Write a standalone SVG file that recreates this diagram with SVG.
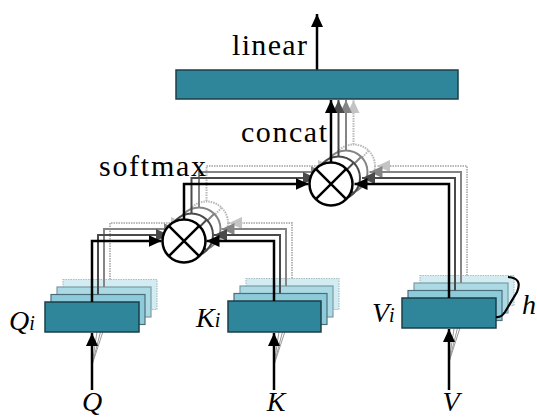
<svg xmlns="http://www.w3.org/2000/svg" width="537" height="419" viewBox="0 0 537 419">
  <defs>
    <style>
      .lbl { font-family: "Liberation Serif", "Times New Roman", serif; font-size: 30px; fill: #000; }
      .var { font-family: "Liberation Serif", "Times New Roman", serif; font-style: italic; font-size: 28px; fill: #000; }
      .sub { font-size: 20px; }
      .node-c { fill: #fff; }
      .l0 { stroke: #000; stroke-width: 2.5; fill: none; }
      .l1 { stroke: #4a4a4a; stroke-width: 2; fill: none; }
      .l2 { stroke: #858585; stroke-width: 2; fill: none; }
      .l3 { stroke: #b8b8b8; stroke-width: 2; fill: none; stroke-dasharray: 1.5 1; }
      .b0 { fill: #2f8599; stroke: #1c3f48; stroke-width: 1.5; }
      .b1 { fill: #8ecbda; stroke: #4b6e78; stroke-width: 1.2; }
      .b2 { fill: #acdae4; stroke: #7a9ba3; stroke-width: 1.2; }
      .b3 { fill: #d2ecf2; stroke: #a8bfc5; stroke-width: 1.2; stroke-dasharray: 1.5 1; }
      .fan { stroke: #9a9a9a; stroke-width: 1; fill: none; }
    </style>
    <marker id="ah0" markerUnits="userSpaceOnUse" markerWidth="14" markerHeight="14" refX="13" refY="6" orient="auto">
      <path d="M0,0 L13,6 L0,12 z" fill="#000"/>
    </marker>
    <marker id="ah1" markerUnits="userSpaceOnUse" markerWidth="14" markerHeight="14" refX="13" refY="6" orient="auto">
      <path d="M0,0 L13,6 L0,12 z" fill="#4a4a4a"/>
    </marker>
    <marker id="ah2" markerUnits="userSpaceOnUse" markerWidth="14" markerHeight="14" refX="13" refY="6" orient="auto">
      <path d="M0,0 L13,6 L0,12 z" fill="#858585"/>
    </marker>
    <marker id="ah3" markerUnits="userSpaceOnUse" markerWidth="14" markerHeight="14" refX="13" refY="6" orient="auto">
      <path d="M0,0 L13,6 L0,12 z" fill="#c4c4c4"/>
    </marker>
  </defs>

  <rect width="537" height="419" fill="#fff"/>

  <!-- head 3 (rearmost copy) -->
  <g id="head-3">
    <g id="q-proj-3"><rect class="b3" x="63" y="279.5" width="94" height="30"/></g>
    <g id="k-proj-3"><rect class="b3" x="246" y="278.5" width="93" height="31"/></g>
    <g id="v-proj-3"><rect class="b3" x="420" y="275.5" width="94" height="30"/></g>
    <g id="connectors-3" class="l3">
      <path d="M110,279.5 V223 H184" marker-end="url(#ah3)"/>
      <path d="M292,278.5 V223 H229" marker-end="url(#ah3)"/>
      <path d="M206.5,201 V166 H331" marker-end="url(#ah3)"/>
      <path d="M467,275.5 V166 H377" marker-end="url(#ah3)"/>
      <path d="M353.5,144.5 V100" marker-end="url(#ah3)"/>
    </g>
    <g id="mul-attn-3" class="l3">
      <circle class="node-c" cx="206.5" cy="223" r="21.5"/>
      <path d="M191.3,207.8 L221.7,238.2 M221.7,207.8 L191.3,238.2"/>
    </g>
    <g id="mul-out-3" class="l3">
      <circle class="node-c" cx="353.5" cy="166" r="21.5"/>
      <path d="M338.3,150.8 L368.7,181.2 M368.7,150.8 L338.3,181.2"/>
    </g>
  </g>

  <!-- head 2 -->
  <g id="head-2">
    <g id="q-proj-2"><rect class="b2" x="57" y="287" width="94" height="30"/></g>
    <g id="k-proj-2"><rect class="b2" x="240" y="286" width="93" height="31"/></g>
    <g id="v-proj-2"><rect class="b2" x="414" y="283" width="94" height="30"/></g>
    <g id="connectors-2" class="l2">
      <path d="M104,287 V229 H176.5" marker-end="url(#ah2)"/>
      <path d="M286,286 V229 H221.5" marker-end="url(#ah2)"/>
      <path d="M199,207 V172 H323.5" marker-end="url(#ah2)"/>
      <path d="M461,283 V172 H369.5" marker-end="url(#ah2)"/>
      <path d="M346,150.5 V100" marker-end="url(#ah2)"/>
    </g>
    <g id="mul-attn-2" class="l2">
      <circle class="node-c" cx="199" cy="229" r="21.5"/>
      <path d="M183.8,213.8 L214.2,244.2 M214.2,213.8 L183.8,244.2"/>
    </g>
    <g id="mul-out-2" class="l2">
      <circle class="node-c" cx="346" cy="172" r="21.5"/>
      <path d="M330.8,156.8 L361.2,187.2 M361.2,156.8 L330.8,187.2"/>
    </g>
  </g>

  <!-- head 1 -->
  <g id="head-1">
    <g id="q-proj-1"><rect class="b1" x="51" y="294.5" width="94" height="30"/></g>
    <g id="k-proj-1"><rect class="b1" x="234" y="293.5" width="93" height="31"/></g>
    <g id="v-proj-1"><rect class="b1" x="408" y="290.5" width="94" height="30"/></g>
    <g id="connectors-1" class="l1">
      <path d="M98,294.5 V235 H169" marker-end="url(#ah1)"/>
      <path d="M280,293.5 V235 H214" marker-end="url(#ah1)"/>
      <path d="M191.5,213 V178 H316" marker-end="url(#ah1)"/>
      <path d="M455,290.5 V178 H362" marker-end="url(#ah1)"/>
      <path d="M338.5,156.5 V100" marker-end="url(#ah1)"/>
    </g>
    <g id="mul-attn-1" class="l1">
      <circle class="node-c" cx="191.5" cy="235" r="21.5"/>
      <path d="M176.3,219.8 L206.7,250.2 M206.7,219.8 L176.3,250.2"/>
    </g>
    <g id="mul-out-1" class="l1">
      <circle class="node-c" cx="338.5" cy="178" r="21.5"/>
      <path d="M323.3,162.8 L353.7,193.2 M353.7,162.8 L323.3,193.2"/>
    </g>
  </g>

  <!-- thin fan lines from each input towards the rear projections -->
  <g id="input-fans" class="fan">
    <path d="M92,365 L98,325 M92,365 L104,318 M92,365 L110,310"/>
    <path d="M274,365 L280,325 M274,365 L286,318 M274,365 L292,310"/>
    <path d="M449,362 L455,322 M449,362 L461,314 M449,362 L467,306"/>
  </g>

  <!-- head 0 (front) -->
  <g id="head-0">
    <g id="q-proj-0"><rect class="b0" x="45" y="302" width="94" height="30"/></g>
    <g id="k-proj-0"><rect class="b0" x="228" y="301" width="93" height="31"/></g>
    <g id="v-proj-0"><rect class="b0" x="402" y="298" width="94" height="30"/></g>
    <g id="connectors-0" class="l0">
      <path d="M92,302 V241 H161.5" marker-end="url(#ah0)"/>
      <path d="M274,301 V241 H206.5" marker-end="url(#ah0)"/>
      <path d="M184,219 V184 H308.5" marker-end="url(#ah0)"/>
      <path d="M449,298 V184 H354.5" marker-end="url(#ah0)"/>
      <path d="M331,162.5 V100" marker-end="url(#ah0)"/>
      <path d="M92,390 V333" marker-end="url(#ah0)"/>
      <path d="M274,390 V333" marker-end="url(#ah0)"/>
      <path d="M449,390 V329" marker-end="url(#ah0)"/>
      <path d="M317,70 V14" marker-end="url(#ah0)"/>
      <!-- bracket spanning the h heads -->
      <path d="M508,277 Q523,278 517,292 L505,312 Q501,318 496,317" stroke-width="2.2"/>
    </g>
    <g id="mul-attn-0" class="l0">
      <circle class="node-c" cx="184" cy="241" r="21.5"/>
      <path d="M168.8,225.8 L199.2,256.2 M199.2,225.8 L168.8,256.2"/>
    </g>
    <g id="mul-out-0" class="l0">
      <circle class="node-c" cx="331" cy="184" r="21.5"/>
      <path d="M315.8,168.8 L346.2,199.2 M346.2,168.8 L315.8,199.2"/>
    </g>
  </g>

  <g id="linear-out">
    <rect class="b0" x="176" y="70" width="282" height="29"/>
  </g>

  <!-- labels -->
  <g id="labels">
    <text class="lbl" x="232" y="55" textLength="75" lengthAdjust="spacing">linear</text>
    <text class="lbl" x="241" y="142" textLength="86" lengthAdjust="spacing">concat</text>
    <text class="lbl" x="99" y="176" textLength="107" lengthAdjust="spacing">softmax</text>
    <text class="var" x="9" y="330">Q<tspan class="sub">i</tspan></text>
    <text class="var" x="196" y="327">K<tspan class="sub">i</tspan></text>
    <text class="var" x="372" y="322">V<tspan class="sub">i</tspan></text>
    <text class="var" x="522" y="314">h</text>
    <text class="var" x="92" y="411" text-anchor="middle">Q</text>
    <text class="var" x="276" y="411" text-anchor="middle">K</text>
    <text class="var" x="451" y="411" text-anchor="middle">V</text>
  </g>
</svg>
